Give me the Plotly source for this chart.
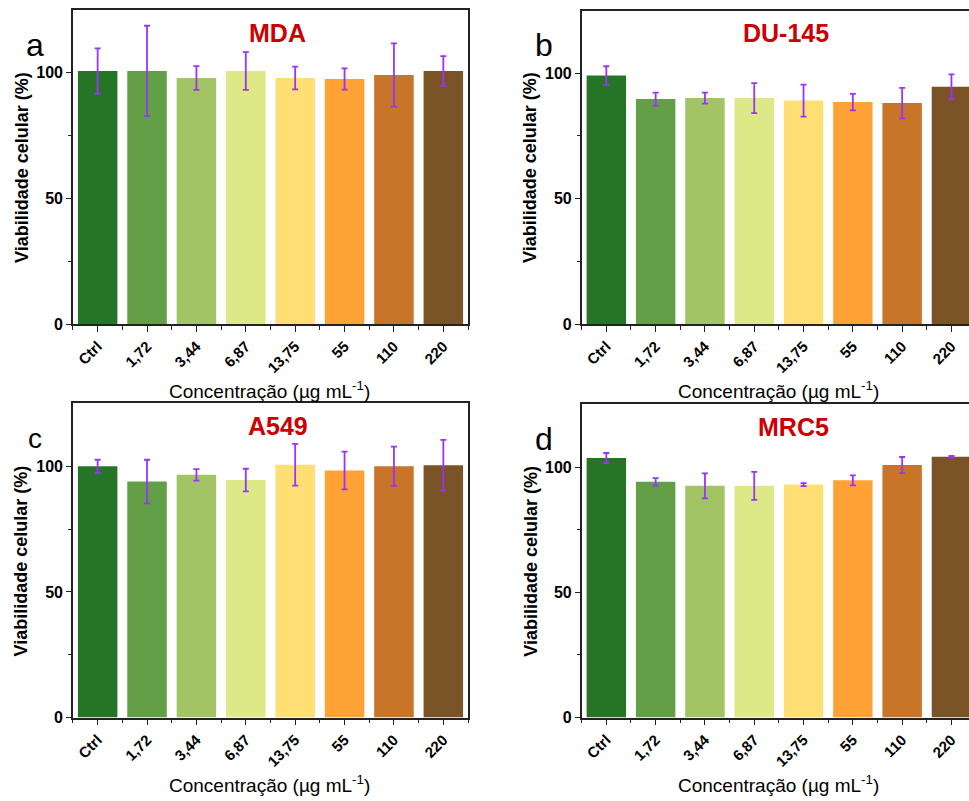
import plotly.graph_objects as go

# Concentration categories (µg mL-1)
categories = ["Ctrl", "1,72", "3,44", "6,87", "13,75", "55", "110", "220"]
bar_colors = ["#267526", "#639f47", "#a2c465", "#dde886",
              "#ffde74", "#ffa236", "#c87429", "#7a5427"]

# Cell viability (%) and standard deviation per cell line
mda_mean = [100.7, 100.7, 97.9, 100.7, 97.9, 97.5, 99.1, 100.7]
mda_sd = [9.0, 18.0, 4.7, 7.5, 4.5, 4.2, 12.6, 5.9]

du145_mean = [99.1, 89.7, 90.1, 90.1, 89.1, 88.5, 88.1, 94.6]
du145_sd = [3.7, 2.6, 2.2, 6.0, 6.4, 3.3, 6.1, 5.0]

a549_mean = [100.0, 93.9, 96.6, 94.5, 100.6, 98.3, 100.0, 100.4]
a549_sd = [2.6, 8.7, 2.3, 4.5, 8.3, 7.5, 7.8, 10.1]

mrc5_mean = [103.6, 94.1, 92.5, 92.5, 93.0, 94.7, 100.8, 104.1]
mrc5_sd = [2.0, 1.5, 5.0, 5.6, 0.6, 2.0, 3.2, 0.3]

panels = [
    # name, letter, means, sds, x-domain, y-domain, x-range, right frame
    ("MDA", "a", mda_mean, mda_sd, [0.0753, 0.483], [0.5909, 0.9875], [-0.5, 7.5], True),
    ("DU-145", "b", du145_mean, du145_sd, [0.6003, 1.0], [0.5909, 0.9866], [-0.5, 7.356], False),
    ("A549", "c", a549_mean, a549_sd, [0.0753, 0.483], [0.094, 0.4906], [-0.5, 7.5], True),
    ("MRC5", "d", mrc5_mean, mrc5_sd, [0.6003, 1.0], [0.094, 0.4894], [-0.5, 7.356], False),
]

W, H = 969, 801
FONT = "Arial, Liberation Sans, sans-serif"
xpos = list(range(len(categories)))

fig = go.Figure()
layout = dict(
    width=W, height=H,
    margin=dict(l=0, r=0, t=0, b=0),
    paper_bgcolor="white", plot_bgcolor="white",
    showlegend=False, bargap=0.2,
    font=dict(family=FONT, color="black"),
)
annotations = []

for i, (name, letter, means, sds, xd, yd, xr, right_frame) in enumerate(panels):
    n = "" if i == 0 else str(i + 1)
    xa, ya = "x" + n, "y" + n
    fig.add_trace(go.Bar(
        x=xpos, y=means, xaxis=xa, yaxis=ya,
        marker=dict(color=bar_colors, line=dict(width=0)),
        width=0.8,
        error_y=dict(type="data", array=sds, visible=True,
                     color="#9933ff", thickness=1.8, width=3),
    ))
    layout["xaxis" + n] = dict(
        domain=xd, range=xr, anchor=ya,
        tickvals=xpos, ticktext=categories, tickangle=-45,
        tickfont=dict(size=15, family=FONT, weight="bold"),
        ticks="outside", ticklen=6, tickwidth=1.3, tickcolor="#222",
        minor=dict(tickvals=[k - 0.5 for k in range(len(categories) + 1)],
                   ticks="outside", ticklen=4, tickwidth=1.3, tickcolor="#222"),
        showline=True, linecolor="#222", linewidth=1.5, mirror=True,
        showgrid=False, zeroline=False, fixedrange=True,
    )
    layout["yaxis" + n] = dict(
        domain=yd, range=[0, 125], anchor=xa,
        tickvals=[0, 50, 100],
        tickfont=dict(size=16, family=FONT, weight="bold"),
        ticks="outside", ticklen=5, tickwidth=1.3, tickcolor="#222",
        minor=dict(tickvals=[25, 75], ticks="outside", ticklen=3,
                   tickwidth=1.3, tickcolor="#222"),
        showline=True, linecolor="#222", linewidth=1.5, mirror=right_frame,
        showgrid=False, zeroline=False, fixedrange=True,
    )

    x0 = xd[0] * W
    y_top = (1 - yd[1]) * H
    y_bot = (1 - yd[0]) * H

    # cell line title inside the frame
    annotations.append(dict(
        xref=xa, yref="paper", x=3.65 if letter != "d" else 3.8,
        y=1 - (y_top + 23) / H, text=name, showarrow=False,
        font=dict(size=25, color="#cc0000", family=FONT, weight="bold"),
        xanchor="center", yanchor="middle",
    ))
    # panel letter
    annotations.append(dict(
        xref="paper", yref="paper", x=(x0 - 38) / W, y=1 - (y_top + 35) / H,
        text=letter, showarrow=False,
        font=dict(size=32 if letter != "c" else 28, color="black", family=FONT),
        xanchor="center", yanchor="middle",
    ))
    # y-axis title
    annotations.append(dict(
        xref="paper", yref="paper", x=(x0 - 51) / W, y=(yd[0] + yd[1]) / 2,
        text="Viabilidade celular (%)", textangle=-90, showarrow=False,
        font=dict(size=18, family=FONT, weight="bold"),
        xanchor="center", yanchor="middle",
    ))
    # x-axis title
    annotations.append(dict(
        xref="paper", yref="paper", x=(x0 + 197) / W, y=1 - (y_bot + 67) / H,
        text="Concentração (µg mL<sup>-1</sup>)", showarrow=False,
        font=dict(size=19, family=FONT),
        xanchor="center", yanchor="middle",
    ))

layout["annotations"] = annotations
fig.update_layout(**layout)
fig.write_html("out.html")
